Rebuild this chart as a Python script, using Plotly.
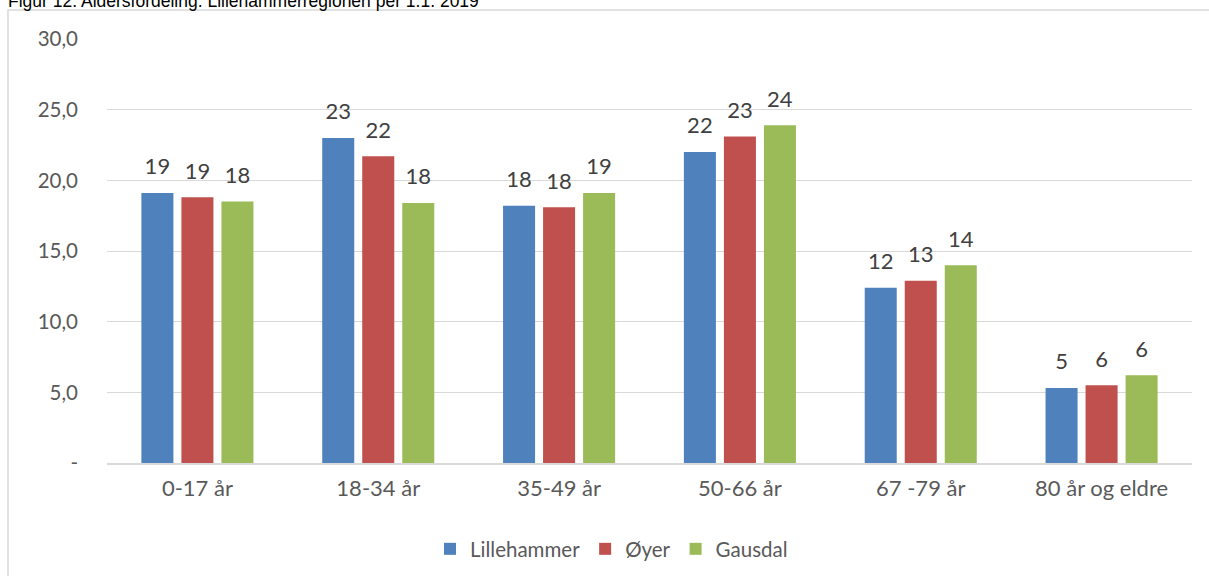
import plotly.graph_objects as go

categories = ["0-17 år", "18-34 år", "35-49 år", "50-66 år", "67 -79 år", "80 år og eldre"]
lillehammer = [19.1, 23.0, 18.2, 22.0, 12.4, 5.3]
oyer = [18.8, 21.7, 18.1, 23.1, 12.9, 5.5]
gausdal = [18.5, 18.4, 19.1, 23.9, 14.0, 6.2]
series_names = ["Lillehammer", "Øyer", "Gausdal"]
colors = ["#4f81bd", "#c0504d", "#9bbb59"]
ytick_vals = [0, 5, 10, 15, 20, 25, 30]
ytick_text = ["-", "5,0", "10,0", "15,0", "20,0", "25,0", "30,0"]
title_text = "Figur 12. Aldersfordeling. Lillehammerregionen per 1.1. 2019"

FONT = "Lato, Open Sans, sans-serif"
W, H = 1209, 576
ml, mr, mt, mb = 107, 17, 39, 113
pw, ph = W - ml - mr, H - mt - mb
label_pad = 0.75  # extra space (data units) between bar top and its value label

fig = go.Figure()
for name, vals, col in zip(series_names, [lillehammer, oyer, gausdal], colors):
    fig.add_trace(go.Bar(
        x=categories, y=vals, name=name, offsetgroup=name,
        marker=dict(color=col, line=dict(width=0)),
    ))
    # invisible spacer bar carrying the value label slightly above the bar
    fig.add_trace(go.Bar(
        x=categories, y=[label_pad] * len(vals), base=vals, offsetgroup=name,
        marker=dict(color="rgba(0,0,0,0)", line=dict(width=0)),
        text=[f"{v:.0f}" for v in vals], textposition="outside",
        textfont=dict(family=FONT, size=22, color="#404040"),
        cliponaxis=False, showlegend=False, hoverinfo="skip",
    ))

fig.update_layout(
    width=W, height=H,
    margin=dict(l=ml, r=mr, t=mt, b=mb, autoexpand=False),
    paper_bgcolor="white", plot_bgcolor="white",
    barmode="group", bargap=0.336, bargroupgap=0.2,
    font=dict(family=FONT, size=22, color="#595959"),
    showlegend=True,
    legend=dict(orientation="h", x=0.465, xanchor="center", y=(ph - (549 - mt)) / ph,
                yanchor="middle", font=dict(size=20.5, color="#595959"),
                itemwidth=30, traceorder="normal"),
    uniformtext=dict(minsize=10, mode="show"),
)
fig.update_xaxes(showgrid=False, showline=True, linecolor="#d9d9d9", linewidth=1.5,
                 ticks="", tickfont=dict(size=22, color="#595959"), ticklabelstandoff=5,
                 automargin=False)
fig.update_yaxes(range=[0, 30], tickvals=ytick_vals, ticktext=ytick_text,
                 showgrid=True, gridcolor="#d9d9d9", gridwidth=1.2, zeroline=False,
                 showline=False, ticks="", tickfont=dict(size=20.5, color="#595959"),
                 ticklabelstandoff=28, automargin=False)

# outer chart frame (left and top edges visible; right/bottom run off the page)
fig.add_shape(type="rect", xref="paper", yref="paper",
              x0=(8 - ml) / pw, x1=(W + 30 - ml) / pw,
              y0=-(mb + 30) / ph, y1=(ph + mt - 10) / ph,
              line=dict(color="#d9d9d9", width=1.5), fillcolor="rgba(0,0,0,0)", layer="below")

fig.add_annotation(text=title_text, xref="paper", yref="paper",
                   x=(6 - ml) / pw, xanchor="left",
                   y=(ph + mt - 13) / ph, yanchor="bottom", showarrow=False,
                   font=dict(family="Liberation Sans, Arial, sans-serif", size=17.5, color="#000000"))

fig.write_html("out.html", config={"displayModeBar": False},
               post_script="document.body.style.margin='0';")
